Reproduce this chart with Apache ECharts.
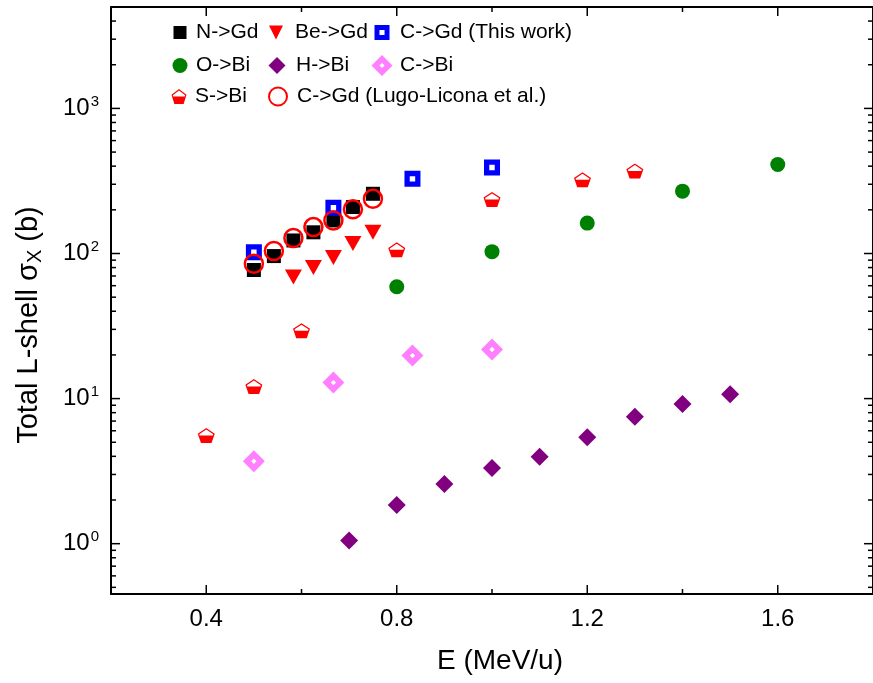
<!DOCTYPE html>
<html>
<head>
<meta charset="utf-8">
<script src="https://cdn.jsdelivr.net/npm/echarts@6.0.0/dist/echarts.min.js"></script>
<style>
html,body{margin:0;padding:0;background:#fff;}
#c{width:873px;height:683px;}
</style>
</head>
<body>
<div id="c"></div>
<script>
// ---- data (E in MeV/u, total L-shell cross section in barn) ----
const nGdE = [0.5, 0.542, 0.583, 0.625, 0.667, 0.708, 0.75];
const nGdSigma = [77, 96, 123, 140, 169, 209, 258];
const beGdE = [0.583, 0.625, 0.667, 0.708, 0.75];
const beGdSigma = [69, 80, 94, 117, 140];
const cGdThisE = [0.5, 0.667, 0.833, 1.0];
const cGdThisSigma = [102, 207, 327, 392];
const oBiE = [0.8, 1.0, 1.2, 1.4, 1.6];
const oBiSigma = [59, 103, 162, 269, 411];
const hBiE = [0.7, 0.8, 0.9, 1.0, 1.1, 1.2, 1.3, 1.4, 1.5];
const hBiSigma = [1.05, 1.85, 2.58, 3.33, 3.98, 5.41, 7.51, 9.19, 10.7];
const cBiE = [0.5, 0.667, 0.833, 1.0];
const cBiSigma = [3.7, 12.9, 19.8, 21.8];
const sBiE = [0.4, 0.5, 0.6, 0.8, 1.0, 1.19, 1.3];
const sBiSigma = [5.56, 12.1, 29.4, 106, 236, 322, 370];
const cGdLugoE = [0.5, 0.542, 0.583, 0.625, 0.667, 0.708, 0.75];
const cGdLugoSigma = [85, 104, 128, 152, 169, 202, 238];

// ---- axis ticks ----
const xMajorTicks = [0.4, 0.8, 1.2, 1.6];
const xMinorTicks = [0.2, 0.6, 1.0, 1.4];
const yMajorTicks = [1, 10, 100, 1000];
const yMinorTicks = [0.5, 0.6, 0.7, 0.8, 0.9, 2, 3, 4, 5, 6, 7, 8, 9, 20, 30, 40, 50, 60, 70, 80, 90,
  200, 300, 400, 500, 600, 700, 800, 900, 2000, 3000, 4000];

const names = ['N->Gd', 'Be->Gd', 'C->Gd (This work)', 'O->Bi', 'H->Bi', 'C->Bi', 'S->Bi', 'C->Gd (Lugo-Licona et al.)'];

const X_MIN = 0.2, X_MAX = 1.8, Y_MIN = 0.45, Y_MAX = 5000;

function pairs(xs, ys) { return xs.map((x, i) => [x, ys[i]]); }

const FONT = 'Liberation Sans, Arial, sans-serif';
const SYM = {
  triDown: 'path://M0 0 L100 0 L50 100 Z',
  hollowSq: 'path://M0 0 L100 0 L100 100 L0 100 Z M33 33 L33 67 L67 67 L67 33 Z',
  hollowDia: 'path://M50 0 L100 50 L50 100 L0 50 Z M50 38 L38 50 L50 62 L62 50 Z',
  halfPent: 'path://M50 0 L100 38 L81 100 L19 100 L0 38 Z M50 10 L9 41 L11.7 50 L88.3 50 L91 41 Z'
};

const chart = echarts.init(document.getElementById('c'), null, {renderer: 'canvas'});

const axisLineStyle = {color: '#000', width: 2};

const xAxes = [
  {
    type: 'value', position: 'bottom', min: X_MIN, max: X_MAX,
    axisLine: {show: true, onZero: false, lineStyle: axisLineStyle},
    axisTick: {show: false},
    axisLabel: {show: true, customValues: xMajorTicks, fontSize: 24, color: '#000', fontFamily: FONT, margin: 13,
      formatter: v => v.toFixed(1)},
    splitLine: {show: false},
    name: 'E (MeV/u)', nameLocation: 'middle', nameGap: 53,
    nameTextStyle: {fontSize: 28, color: '#000', fontFamily: FONT, padding: [0, 0, 0, 16]}
  },
  {
    type: 'value', position: 'top', min: X_MIN, max: X_MAX,
    axisLine: {show: true, onZero: false, lineStyle: axisLineStyle},
    axisTick: {show: false}, axisLabel: {show: false}, splitLine: {show: false}
  }
];
const yAxes = [
  {
    type: 'log', logBase: 10, position: 'left', min: Y_MIN, max: Y_MAX,
    axisLine: {show: true, onZero: false, lineStyle: axisLineStyle},
    axisTick: {show: false},
    axisLabel: {show: true, customValues: yMajorTicks, color: '#000', fontFamily: FONT, margin: 12,
      formatter: v => '{b|10}{s|' + Math.round(Math.log10(v)) + '}',
      rich: {b: {fontSize: 24, fontFamily: FONT, color: '#000'},
             s: {fontSize: 15, fontFamily: FONT, color: '#000', padding: [0, 0, 14, 1]}}},
    splitLine: {show: false}
  },
  {
    type: 'log', logBase: 10, position: 'right', min: Y_MIN, max: Y_MAX,
    axisLine: {show: true, onZero: false, lineStyle: axisLineStyle},
    axisTick: {show: false}, axisLabel: {show: false}, splitLine: {show: false}
  }
];

// tick marks drawn through the axes' own scales: [x, y, side, length]
// side: 0 bottom, 1 top, 2 left, 3 right
const tickData = [];
xMajorTicks.forEach(v => { tickData.push([v, 1, 0, 9]); tickData.push([v, 1, 1, 9]); });
xMinorTicks.forEach(v => { tickData.push([v, 1, 0, 5]); tickData.push([v, 1, 1, 5]); });
yMajorTicks.forEach(v => { tickData.push([1, v, 2, 9]); tickData.push([1, v, 3, 9]); });
yMinorTicks.forEach(v => { tickData.push([1, v, 2, 5]); tickData.push([1, v, 3, 5]); });

function renderTick(params, api) {
  const side = api.value(2), len = api.value(3);
  let p, q;
  if (side === 0) { p = api.coord([api.value(0), Y_MIN]); q = [p[0], p[1] - len]; }
  else if (side === 1) { p = api.coord([api.value(0), Y_MAX]); q = [p[0], p[1] + len]; }
  else if (side === 2) { p = api.coord([X_MIN, api.value(1)]); q = [p[0] + len, p[1]]; }
  else { p = api.coord([X_MAX, api.value(1)]); q = [p[0] - len, p[1]]; }
  return {type: 'line', shape: {x1: p[0], y1: p[1], x2: q[0], y2: q[1]},
    style: {stroke: '#000', lineWidth: 1.5}};
}

function sc(name, xs, ys, symbol, size, style, z) {
  return {name, type: 'scatter', xAxisIndex: 0, yAxisIndex: 0, data: pairs(xs, ys),
    symbol, symbolSize: size, itemStyle: Object.assign({opacity: 1}, style), z: z || 2,
    emphasis: {disabled: true}};
}

const series = [
  sc(names[0], nGdE, nGdSigma, 'rect', 14, {color: '#000'}),
  sc(names[1], beGdE, beGdSigma, SYM.triDown, [17, 15], {color: '#ff0000'}),
  sc(names[2], cGdThisE, cGdThisSigma, SYM.hollowSq, 16, {color: '#0000ff'}),
  sc(names[3], oBiE, oBiSigma, 'circle', 15, {color: '#008000'}),
  sc(names[4], hBiE, hBiSigma, 'diamond', 18, {color: '#800080'}),
  sc(names[5], cBiE, cBiSigma, SYM.hollowDia, 22, {color: '#ff80ff'}),
  sc(names[6], sBiE, sBiSigma, SYM.halfPent, [17, 15], {color: '#ff0000'}),
  sc(names[7], cGdLugoE, cGdLugoSigma, 'circle', 18, {color: 'rgba(0,0,0,0)', borderColor: '#ff0000', borderWidth: 2.5}, 3),
  {type: 'custom', name: 'ticks', xAxisIndex: 0, yAxisIndex: 0, data: tickData,
   renderItem: renderTick, clip: false, silent: true, z: 5, animation: false}
];

const legendIcons = ['rect', SYM.triDown, SYM.hollowSq, 'circle', 'diamond', SYM.hollowDia, SYM.halfPent, 'circle'];
const legendSizes = [[13, 13], [16, 14], [15, 15], [15, 15], [17, 17], [21, 21], [17, 15], [18, 18]];
const colSym = [180, 277, 382];
const colText = [196, 296, 400];
const rowMid = [33, 66, 97];
const legends = names.map((n, i) => {
  const col = i < 6 ? i % 3 : (i === 6 ? 0 : 1);
  const row = Math.floor(i / 3);
  const w = legendSizes[i][0];
  const left = colSym[col] - w / 2;
  const pad = colText[col] - (left + w + 5);
  return {
    data: [{name: n, icon: legendIcons[i], itemStyle: {opacity: 1}}],
    left: left, top: rowMid[row] - 11,
    padding: 0, itemWidth: w, itemHeight: legendSizes[i][1],
    itemGap: 0, selectedMode: false,
    textStyle: {fontSize: 21, color: '#000', fontFamily: FONT, padding: [0, 0, 0, pad]}
  };
});

chart.setOption({
  animation: false,
  backgroundColor: '#fff',
  grid: {left: 111, right: -5, top: 7, bottom: 89, containLabel: false},
  xAxis: xAxes,
  yAxis: yAxes,
  legend: legends,
  graphic: [{
    type: 'text', x: 29, y: 325, rotation: Math.PI / 2, silent: true,
    style: {
      text: '{t|Total L-shell σ}{s|X}{t| (b)}',
      align: 'center', verticalAlign: 'middle', fill: '#000',
      rich: {t: {fontSize: 29, fontFamily: FONT, fill: '#000', color: '#000'},
             s: {fontSize: 20, fontFamily: FONT, fill: '#000', color: '#000', padding: [13, 0, 0, 0]}}
    }
  }],
  series: series
});
</script>
</body>
</html>
